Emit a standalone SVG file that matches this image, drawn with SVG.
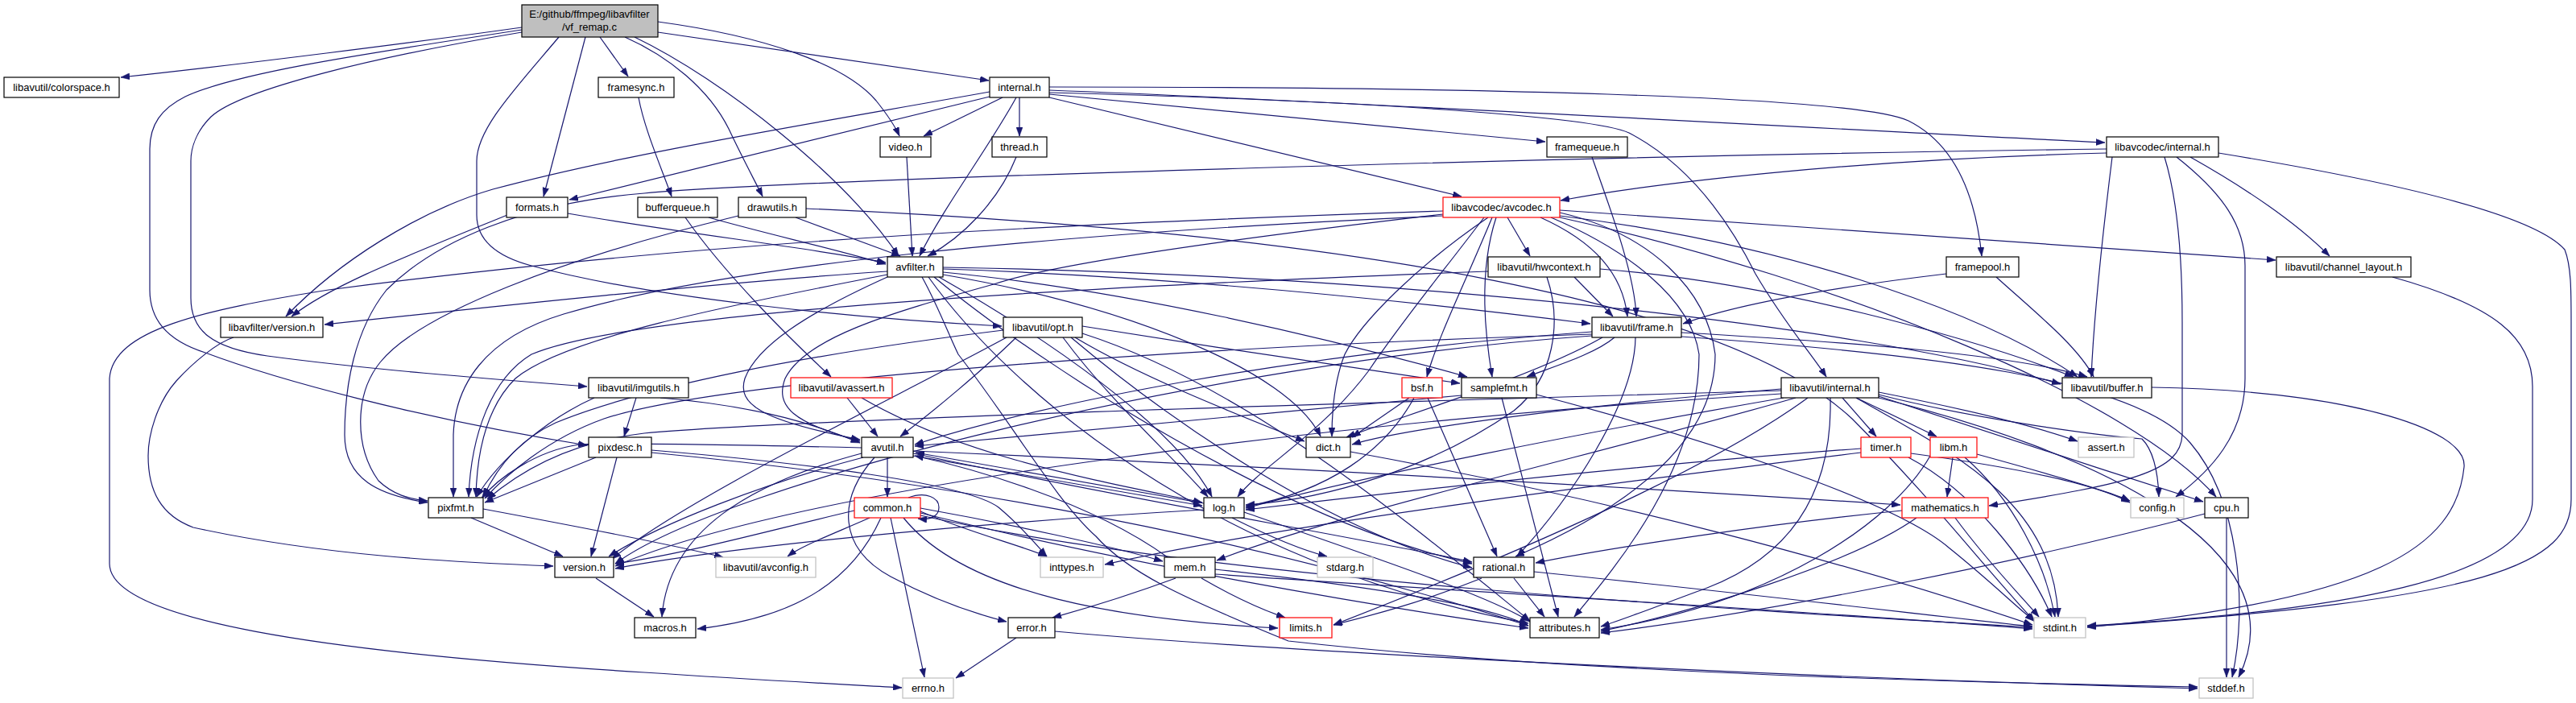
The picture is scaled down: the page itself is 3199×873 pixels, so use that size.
<svg xmlns="http://www.w3.org/2000/svg" width="3199" height="873" viewBox="0 0 3199 873">
<style>
.n rect{fill:#fff;stroke:#000;stroke-width:1.2}
.r rect{stroke:#f00}
.g rect{stroke:#bfbfbf}
.t rect{fill:#bfbfbf}
text{font-family:"Liberation Sans",Arial,sans-serif;font-size:13px;text-anchor:middle;fill:#000}
#edges path{fill:none;stroke:#191970;stroke-width:1.2;marker-end:url(#a)}
</style>
<defs>
<marker id="a" viewBox="0 0 11 8" refX="11" refY="4" markerWidth="11" markerHeight="8" markerUnits="userSpaceOnUse" orient="auto"><path d="M0,0L11,4L0,8z" fill="#191970" stroke="#191970" stroke-width="0.5"/></marker>
</defs>
<rect width="3199" height="873" fill="#fff"/>
<g id="edges">
<path d="M648,34 C520,52 300,80 150,96"/>
<path d="M648,37 C430,70 290,92 230,120 C200,135 186,155 186,185 L186,360 C186,395 205,422 255,438 C340,470 520,520 729,553"/>
<path d="M648,40 C470,70 300,110 262,145 C245,162 237,182 237,200 L237,370 C237,410 262,432 332,442 C450,458 600,470 729,480"/>
<path d="M745,46 L780,95"/>
<path d="M727,46 L675,244"/>
<path d="M694,46 C640,110 592,160 592,200 L592,267 C592,298 615,318 660,330 C800,368 1050,395 1244,405"/>
<path d="M776,46 C830,70 880,110 905,160 C920,192 936,222 947,244"/>
<path d="M788,46 C900,100 1050,220 1116,318"/>
<path d="M817,27 C950,45 1050,80 1088,125 C1104,145 1113,160 1117,169"/>
<path d="M817,40 L1228,100"/>
<path d="M793,121 C800,160 822,210 834,244"/>
<path d="M1245,121 L1147,169"/>
<path d="M1266,121 L1266,169"/>
<path d="M1262,121 C1230,180 1170,260 1142,318"/>
<path d="M1229,120 L707,248"/>
<path d="M1229,114 C1000,155 780,190 612,235 C520,262 420,325 355,393"/>
<path d="M1303,108 C1800,108 2300,118 2370,150 C2420,175 2452,230 2461,318"/>
<path d="M1303,112 C1700,127 2300,162 2614,177"/>
<path d="M1303,115 C1700,125 1980,145 2023,165 C2090,200 2140,260 2180,340 C2215,400 2250,440 2268,468"/>
<path d="M1303,117 L1919,176"/>
<path d="M1303,121 L1815,244"/>
<path d="M1126,195 L1133,318"/>
<path d="M1262,195 C1240,250 1195,295 1152,318"/>
<path d="M2616,190 C2300,198 2050,228 1938,249"/>
<path d="M2616,185 C2000,193 1000,222 800,240 C650,252 540,300 480,360 C440,410 428,480 428,540 C428,595 470,615 531,624"/>
<path d="M2623,195 C2610,300 2600,400 2597,468"/>
<path d="M2720,195 C2800,240 2855,280 2893,318"/>
<path d="M2688,195 C2705,250 2710,320 2710,400 L2710,540 C2708,585 2650,600 2470,628"/>
<path d="M2703,195 C2760,240 2788,280 2788,330 L2788,470 C2788,540 2745,585 2702,617"/>
<path d="M2755,190 C3000,230 3150,270 3185,310 C3193,330 3193,360 3193,400 L3193,620 C3193,700 3100,745 2592,778"/>
<path d="M1977,195 C2000,260 2030,340 2032,393"/>
<path d="M705,265 C850,290 1000,307 1100,326"/>
<path d="M630,267 C500,320 410,355 362,393"/>
<path d="M880,270 C950,290 1040,310 1100,328"/>
<path d="M851,270 C900,340 980,420 1032,468"/>
<path d="M988,270 L1118,318"/>
<path d="M1001,259 C1700,290 2150,380 2300,520 C2400,620 2460,700 2527,772"/>
<path d="M917,268 C700,320 520,390 472,450 C440,490 440,555 470,597 C488,614 508,620 531,622"/>
<path d="M1872,270 L1900,318"/>
<path d="M1913,270 C1980,300 2015,340 2021,393"/>
<path d="M1792,262 C1400,275 900,295 408,360 C250,385 140,410 136,470 L136,700 C136,770 400,810 800,835 C950,845 1050,850 1120,854"/>
<path d="M1858,270 C1835,340 1845,420 1853,468"/>
<path d="M1853,270 C1820,350 1785,420 1772,468"/>
<path d="M1848,270 C1760,330 1690,400 1670,440 C1658,470 1654,510 1654,542"/>
<path d="M1843,270 C1790,340 1740,400 1700,460 C1640,540 1565,580 1537,617"/>
<path d="M1792,266 C1500,300 1300,330 1234,353 C1100,390 1000,420 975,470 C962,505 985,525 1068,548"/>
<path d="M1937,264 C2050,290 2120,360 2130,440 C2130,560 2000,640 1882,691"/>
<path d="M1926,270 C2020,310 2100,370 2110,440 C2110,580 2010,700 1955,766"/>
<path d="M1937,268 C2200,300 2450,380 2580,468"/>
<path d="M1937,261 L2826,323"/>
<path d="M1937,270 C2300,350 2650,500 2752,617"/>
<path d="M1792,268 C1300,290 900,330 700,390 C600,420 565,480 563,540 L563,617"/>
<path d="M1102,344 C1000,390 940,430 925,470 C915,502 945,522 1068,546"/>
<path d="M1102,337 C900,350 600,382 403,403"/>
<path d="M1145,344 C1165,380 1180,420 1190,440 C1260,530 1310,620 1361,666 C1400,710 1463,740 1600,796 C1900,830 2300,845 2729,853"/>
<path d="M1171,334 C1500,345 1800,380 1975,402"/>
<path d="M1171,338 C1400,360 1650,420 1822,468"/>
<path d="M1171,341 C1400,380 1600,460 1640,542"/>
<path d="M1166,344 C1300,420 1460,530 1505,617"/>
<path d="M1160,344 C1300,460 1600,650 1828,700"/>
<path d="M1153,344 C1250,480 1500,700 1898,774"/>
<path d="M1171,332 C1700,340 2300,400 2559,477"/>
<path d="M1102,341 C900,380 700,420 640,470 C600,510 592,570 591,617"/>
<path d="M1955,344 L2003,393"/>
<path d="M1987,334 C2200,350 2450,420 2575,468"/>
<path d="M1848,337 C1500,350 800,380 660,440 C610,470 585,540 582,617"/>
<path d="M1921,344 C1940,400 1930,470 1880,510 C1780,580 1650,620 1547,627"/>
<path d="M1977,412 C1600,440 1300,500 1136,552"/>
<path d="M2005,419 C1980,440 1930,455 1896,468"/>
<path d="M1990,419 C1900,470 1730,520 1672,543"/>
<path d="M2031,419 C2030,500 1950,620 1884,691"/>
<path d="M2088,413 C2300,425 2500,440 2592,468"/>
<path d="M1977,415 C1500,430 900,470 750,520 C680,545 628,590 602,619"/>
<path d="M1977,417 C1500,450 900,600 764,700"/>
<path d="M2088,418 C2400,440 2650,470 2720,550 C2780,620 2792,750 2772,841"/>
<path d="M1262,419 C1220,460 1160,510 1118,542"/>
<path d="M1344,405 C1500,430 1700,460 1813,476"/>
<path d="M1335,419 C1420,470 1550,520 1620,548"/>
<path d="M1320,419 C1380,500 1460,570 1500,617"/>
<path d="M1246,410 C1000,440 800,480 690,525 C640,548 615,585 600,617"/>
<path d="M1330,419 C1450,520 1650,660 1828,705"/>
<path d="M1344,414 C1550,480 1750,650 1900,771"/>
<path d="M1250,419 C1100,500 850,620 760,694"/>
<path d="M790,494 L775,542"/>
<path d="M820,494 C950,505 1020,530 1068,550"/>
<path d="M738,494 C680,520 620,570 592,617"/>
<path d="M740,568 L602,624"/>
<path d="M766,568 L734,691"/>
<path d="M809,559 C1000,575 1200,600 1240,630 C1270,655 1290,680 1300,691"/>
<path d="M809,562 C1100,590 1500,650 1898,777"/>
<path d="M1052,494 L1090,542"/>
<path d="M1070,494 C1200,570 1380,600 1493,624"/>
<path d="M1750,494 L1679,543"/>
<path d="M1756,494 C1720,560 1650,610 1547,629"/>
<path d="M1773,494 L1859,691"/>
<path d="M1815,491 C1600,510 1300,540 1136,554"/>
<path d="M1865,494 L1935,766"/>
<path d="M1908,490 C2100,540 2350,620 2420,680 C2470,720 2500,750 2526,771"/>
<path d="M2288,494 L2330,542"/>
<path d="M2305,494 C2350,515 2380,530 2405,542"/>
<path d="M2333,487 C2450,510 2530,530 2580,548"/>
<path d="M2333,490 C2450,520 2600,540 2660,545 C2675,560 2680,590 2681,617"/>
<path d="M2333,492 C2450,530 2600,580 2736,623"/>
<path d="M2305,494 C2420,560 2550,620 2556,766"/>
<path d="M2333,494 C2600,560 2860,680 2780,841"/>
<path d="M2273,494 C2275,580 2250,680 2120,730 C2060,752 2020,768 1988,778"/>
<path d="M2212,483 C2000,500 1750,530 1679,552"/>
<path d="M2212,485 C1700,500 1000,520 800,538 C700,550 640,590 605,620"/>
<path d="M2212,489 C1700,520 1000,600 764,703"/>
<path d="M2230,494 C2000,560 1650,640 1511,696"/>
<path d="M2245,494 C2100,600 1800,720 1656,776"/>
<path d="M2215,494 C1950,540 1700,590 1547,631"/>
<path d="M2373,563 C2500,580 2600,600 2645,624"/>
<path d="M2311,557 C2000,580 1700,615 1547,633"/>
<path d="M2370,568 C2450,610 2520,700 2548,766"/>
<path d="M2311,562 C2000,600 1600,650 1372,701"/>
<path d="M2425,568 L2418,617"/>
<path d="M2455,564 C2550,590 2620,610 2645,622"/>
<path d="M2440,568 C2500,620 2540,700 2552,766"/>
<path d="M2397,566 C2350,650 2200,750 1988,782"/>
<path d="M2362,634 C2200,650 2000,680 1907,699"/>
<path d="M2380,643 C2300,700 2100,760 1988,784"/>
<path d="M2428,643 C2470,700 2510,740 2532,766"/>
<path d="M2765,643 L2765,841"/>
<path d="M2738,638 C2500,700 2200,760 1988,786"/>
<path d="M1495,625 L1137,562"/>
<path d="M1530,643 C1580,668 1620,684 1648,691"/>
<path d="M1495,633 C1200,650 900,680 764,706"/>
<path d="M1545,636 C1700,690 1850,740 1900,772"/>
<path d="M1128,618 C1150,610 1166,618 1166,630 C1166,641 1156,646 1140,644"/>
<path d="M1080,643 C1030,665 995,678 978,691"/>
<path d="M1094,643 C1050,740 960,770 866,781"/>
<path d="M1106,643 L1148,841"/>
<path d="M1143,635 C1200,660 1270,678 1300,691"/>
<path d="M1143,631 C1250,650 1380,678 1444,697"/>
<path d="M1122,643 C1200,740 1400,770 1587,780"/>
<path d="M1143,640 C1500,720 2200,760 2524,779"/>
<path d="M1143,637 C1400,700 1700,752 1898,780"/>
<path d="M1061,634 C950,660 850,688 764,700"/>
<path d="M1102,568 L1102,617"/>
<path d="M1086,568 C1040,620 1040,680 1106,716 C1160,745 1210,762 1250,772"/>
<path d="M1134,563 C1400,620 1700,670 1828,698"/>
<path d="M1072,568 C950,600 820,650 756,691"/>
<path d="M1070,563 C930,600 830,660 822,766"/>
<path d="M1134,560 C1600,580 2100,610 2360,627"/>
<path d="M1134,566 L1493,628"/>
<path d="M1070,556 C900,552 760,550 719,552 C665,560 618,594 598,619"/>
<path d="M1262,792 L1187,842"/>
<path d="M1310,784 C1600,810 2200,840 2729,855"/>
<path d="M1460,718 C1400,740 1340,758 1307,767"/>
<path d="M1492,718 C1530,740 1570,758 1596,767"/>
<path d="M1509,707 C1700,728 1850,752 1898,777"/>
<path d="M1509,713 C1900,740 2300,762 2524,781"/>
<path d="M1450,692 C1350,620 1200,580 1136,566"/>
<path d="M1880,718 L1918,766"/>
<path d="M1840,718 C1760,750 1700,765 1656,776"/>
<path d="M1905,710 C2200,740 2400,765 2524,778"/>
<path d="M585,643 L699,691"/>
<path d="M600,632 C750,660 850,680 898,692"/>
<path d="M740,718 L812,766"/>
<path d="M290,419 C270,425 240,450 219,473 C195,500 184,540 184,566 C184,610 200,640 240,655 C400,690 560,698 687,703"/>
<path d="M1677,561 C2000,620 2300,700 2524,776"/>
<path d="M2672,481 C2900,484 3065,530 3060,580 C3050,680 2950,745 2592,779"/>
<path d="M2971,344 C3100,380 3145,420 3145,480 L3145,620 C3145,720 2900,760 2592,777"/>
<path d="M2479,344 C2530,390 2580,430 2600,468"/>
<path d="M2417,340 C2250,360 2150,380 2090,402"/>
</g>
<g id="n_top" class="n t"><rect x="648" y="6" width="169" height="40"/><text x="732" y="22">E:/github/ffmpeg/libavfilter</text><text x="732" y="38">/vf_remap.c</text></g>
<g id="n_colorspace" class="n"><rect x="5" y="96" width="143" height="25"/><text x="76.5" y="113">libavutil/colorspace.h</text></g>
<g id="n_framesync" class="n"><rect x="743" y="96" width="94" height="25"/><text x="790" y="113">framesync.h</text></g>
<g id="n_internal" class="n"><rect x="1229" y="96" width="74" height="25"/><text x="1266" y="113">internal.h</text></g>
<g id="n_video" class="n"><rect x="1093" y="170" width="63" height="25"/><text x="1124.5" y="187">video.h</text></g>
<g id="n_thread" class="n"><rect x="1232" y="170" width="68" height="25"/><text x="1266" y="187">thread.h</text></g>
<g id="n_framequeue" class="n"><rect x="1921" y="170" width="100" height="25"/><text x="1971" y="187">framequeue.h</text></g>
<g id="n_lavc_internal" class="n"><rect x="2616" y="170" width="139" height="25"/><text x="2685.5" y="187">libavcodec/internal.h</text></g>
<g id="n_formats" class="n"><rect x="629" y="245" width="76" height="25"/><text x="667" y="262">formats.h</text></g>
<g id="n_bufferqueue" class="n"><rect x="792" y="245" width="99" height="25"/><text x="841.5" y="262">bufferqueue.h</text></g>
<g id="n_drawutils" class="n"><rect x="917" y="245" width="84" height="25"/><text x="959" y="262">drawutils.h</text></g>
<g id="n_avcodec" class="n r"><rect x="1792" y="245" width="145" height="25"/><text x="1864.5" y="262">libavcodec/avcodec.h</text></g>
<g id="n_avfilter" class="n"><rect x="1102" y="319" width="69" height="25"/><text x="1136.5" y="336">avfilter.h</text></g>
<g id="n_hwcontext" class="n"><rect x="1848" y="319" width="139" height="25"/><text x="1917.5" y="336">libavutil/hwcontext.h</text></g>
<g id="n_framepool" class="n"><rect x="2417" y="319" width="90" height="25"/><text x="2462" y="336">framepool.h</text></g>
<g id="n_channel_layout" class="n"><rect x="2827" y="319" width="167" height="25"/><text x="2910.5" y="336">libavutil/channel_layout.h</text></g>
<g id="n_lavfi_version" class="n"><rect x="274" y="394" width="127" height="25"/><text x="337.5" y="411">libavfilter/version.h</text></g>
<g id="n_opt" class="n"><rect x="1246" y="394" width="98" height="25"/><text x="1295" y="411">libavutil/opt.h</text></g>
<g id="n_frame" class="n"><rect x="1977" y="394" width="111" height="25"/><text x="2032.5" y="411">libavutil/frame.h</text></g>
<g id="n_imgutils" class="n"><rect x="731" y="469" width="124" height="25"/><text x="793" y="486">libavutil/imgutils.h</text></g>
<g id="n_avassert" class="n r"><rect x="982" y="469" width="126" height="25"/><text x="1045" y="486">libavutil/avassert.h</text></g>
<g id="n_bsf" class="n r"><rect x="1741" y="469" width="50" height="25"/><text x="1766" y="486">bsf.h</text></g>
<g id="n_samplefmt" class="n"><rect x="1815" y="469" width="93" height="25"/><text x="1861.5" y="486">samplefmt.h</text></g>
<g id="n_lavu_internal" class="n"><rect x="2212" y="469" width="121" height="25"/><text x="2272.5" y="486">libavutil/internal.h</text></g>
<g id="n_buffer" class="n"><rect x="2561" y="469" width="111" height="25"/><text x="2616.5" y="486">libavutil/buffer.h</text></g>
<g id="n_pixdesc" class="n"><rect x="731" y="543" width="78" height="25"/><text x="770" y="560">pixdesc.h</text></g>
<g id="n_avutil" class="n"><rect x="1070" y="543" width="64" height="25"/><text x="1102" y="560">avutil.h</text></g>
<g id="n_dict" class="n"><rect x="1622" y="543" width="55" height="25"/><text x="1649.5" y="560">dict.h</text></g>
<g id="n_timer" class="n r"><rect x="2311" y="543" width="62" height="25"/><text x="2342" y="560">timer.h</text></g>
<g id="n_libm" class="n r"><rect x="2397" y="543" width="58" height="25"/><text x="2426" y="560">libm.h</text></g>
<g id="n_assert" class="n g"><rect x="2581" y="543" width="69" height="25"/><text x="2615.5" y="560">assert.h</text></g>
<g id="n_pixfmt" class="n"><rect x="532" y="618" width="68" height="25"/><text x="566" y="635">pixfmt.h</text></g>
<g id="n_common" class="n r"><rect x="1061" y="618" width="82" height="25"/><text x="1102" y="635">common.h</text></g>
<g id="n_log" class="n"><rect x="1495" y="618" width="50" height="25"/><text x="1520" y="635">log.h</text></g>
<g id="n_mathematics" class="n r"><rect x="2362" y="618" width="107" height="25"/><text x="2415.5" y="635">mathematics.h</text></g>
<g id="n_config" class="n g"><rect x="2646" y="618" width="66" height="25"/><text x="2679" y="635">config.h</text></g>
<g id="n_cpu" class="n"><rect x="2738" y="618" width="54" height="25"/><text x="2765" y="635">cpu.h</text></g>
<g id="n_version" class="n"><rect x="689" y="692" width="73" height="25"/><text x="725.5" y="709">version.h</text></g>
<g id="n_avconfig" class="n g"><rect x="889" y="692" width="124" height="25"/><text x="951" y="709">libavutil/avconfig.h</text></g>
<g id="n_inttypes" class="n g"><rect x="1292" y="692" width="78" height="25"/><text x="1331" y="709">inttypes.h</text></g>
<g id="n_mem" class="n"><rect x="1446" y="692" width="63" height="25"/><text x="1477.5" y="709">mem.h</text></g>
<g id="n_stdarg" class="n g"><rect x="1636" y="692" width="69" height="25"/><text x="1670.5" y="709">stdarg.h</text></g>
<g id="n_rational" class="n"><rect x="1830" y="692" width="75" height="25"/><text x="1867.5" y="709">rational.h</text></g>
<g id="n_macros" class="n"><rect x="788" y="767" width="76" height="25"/><text x="826" y="784">macros.h</text></g>
<g id="n_error" class="n"><rect x="1252" y="767" width="58" height="25"/><text x="1281" y="784">error.h</text></g>
<g id="n_limits" class="n r"><rect x="1589" y="767" width="65" height="25"/><text x="1621.5" y="784">limits.h</text></g>
<g id="n_attributes" class="n"><rect x="1900" y="767" width="86" height="25"/><text x="1943" y="784">attributes.h</text></g>
<g id="n_stdint" class="n g"><rect x="2526" y="767" width="64" height="25"/><text x="2558" y="784">stdint.h</text></g>
<g id="n_errno" class="n g"><rect x="1121" y="842" width="63" height="25"/><text x="1152.5" y="859">errno.h</text></g>
<g id="n_stddef" class="n g"><rect x="2731" y="842" width="67" height="25"/><text x="2764.5" y="859">stddef.h</text></g>
</svg>
